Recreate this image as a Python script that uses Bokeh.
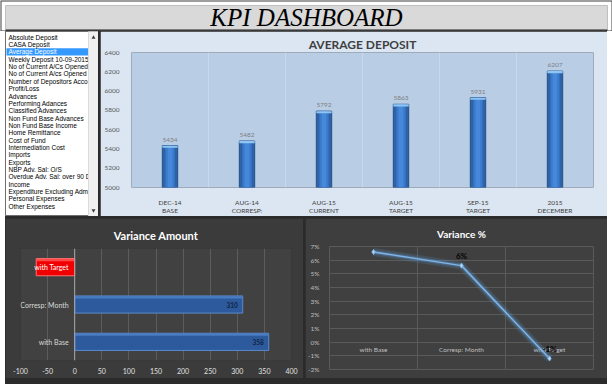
from bokeh.plotting import figure
from bokeh.models import Range1d, FixedTicker, CustomJSTickFormatter, Span, Spacer
from bokeh.layouts import column, row
from bokeh.embed import file_html
from bokeh.resources import INLINE
from bokeh.core.properties import value

# ---------------- data ----------------
dashboard_title = "KPI DASHBOARD"
menu_items = ["Absolute Deposit", "CASA Deposit", "Average Deposit", "Weekly Deposit  10-09-2015",
              "No of Current A/Cs Opened", "No of Current A/cs Opened", "Number of Depositors Acco",
              "Profit/Loss", "Advances", "Performing Adances", "Classified Advances",
              "Non Fund Base Advances", "Non Fund Base Income", "Home Remittance", "Cost of Fund",
              "Intermediation Cost", "Imports", "Exports", "NBP Adv. Sal: O/S",
              "Overdue Adv. Sal: over 90 D", "Income", "Expenditure Excluding Adm",
              "Personal Expenses", "Other Expenses"]
selected_item = "Average Deposit"

periods = ["DEC-14", "AUG-14", "AUG-15", "AUG-15", "SEP-15", "2015"]
period_types = ["BASE", "CORRESP:", "CURRENT", "TARGET", "TARGET", "DECEMBER"]
avg_deposit = [5434, 5482, 5792, 5863, 5931, 6207]
deposit_ticks = [5000, 5200, 5400, 5600, 5800, 6000, 6200, 6400]

var_categories = ["with Base", "Corresp: Month", "with Target"]
var_amount = [358, 310, -71]
amount_ticks = [-100, -50, 0, 50, 100, 150, 200, 250, 300, 350, 400]
var_pct = [6.6, 5.6, -1.2]
var_pct_labels = ["7%", "6%", "-1%"]
pct_ticks = [-2, -1, 0, 1, 2, 3, 4, 5, 6, 7]

FONT = "Lato"


def base_fig(**kw):
    return figure(toolbar_location=None, output_backend="svg", **kw)


def style_title(p, text, size, color, standoff):
    p.title.text = text
    p.title.align = "center"
    p.title.text_font = FONT
    p.title.text_font_size = size
    p.title.text_color = color
    p.title.text_font_style = "bold"
    p.title.standoff = standoff


# ---------------- title bar (full page width, pixel coordinates) ----------------
TW, TH = 612, 31
pt = base_fig(width=TW, height=TH, x_range=(0, TW), y_range=(TH, 0), x_axis_type=None, y_axis_type=None,
              min_border=0)
pt.background_fill_color = "#ffffff"
pt.border_fill_color = "#ffffff"
pt.outline_line_color = None
pt.grid.visible = False
pt.quad(left=0, right=TW, top=0, bottom=TH, fill_color="#ffffff", line_color="#3f3f3f", line_width=2)
pt.quad(left=5, right=TW - 5, top=5, bottom=29, fill_color="#d9d9d9", line_color="#bfbfbf")
pt.quad(left=5, right=TW - 5, top=29, bottom=TH, fill_color="#3a3a3a", line_color=None)
pt.text(x=[TW / 2], y=[17], text=[dashboard_title], text_align="center", text_baseline="middle",
        text_font=value("Liberation Serif"), text_font_style="italic", text_font_size="25px",
        text_color="#000000")

# ---------------- menu list ----------------
LW, LH = 93, 185
pl = base_fig(width=LW, height=LH, x_range=(0, LW), y_range=(LH, 0), x_axis_type=None, y_axis_type=None,
              min_border=0)
pl.background_fill_color = "#ffffff"
pl.border_fill_color = "#ffffff"
pl.outline_line_color = "#6f6f6f"
pl.grid.visible = False
step = 7.35
ys = [5.7 + i * step for i in range(len(menu_items))]
sel = menu_items.index(selected_item)
pl.quad(left=1, right=83, top=ys[sel] - step / 2, bottom=ys[sel] + step / 2, fill_color="#3399ff", line_color=None)
colors = ["#ffffff" if m == selected_item else "#000000" for m in menu_items]
pl.text(x=3, y=ys, text=menu_items, text_color=colors, text_font=value("Liberation Sans"),
        text_font_size="6.5px", text_baseline="middle")
pl.quad(left=83, right=LW, top=0, bottom=LH, fill_color="#f0f0f0", line_color="#dcdcdc")
pl.scatter(x=[88, 88], y=[6, LH - 6], marker=["triangle", "inverted_triangle"], size=4,
           fill_color="#404040", line_color=None)

# ---------------- average deposit ----------------
pa = base_fig(width=507, height=185, x_range=Range1d(0, 6), y_range=Range1d(5000, 6400),
              min_border_left=31, min_border_right=14, min_border_top=21, min_border_bottom=23)
pa.background_fill_color = "#b9cde5"
pa.border_fill_color = "#dce6f2"
pa.outline_line_color = None
style_title(pa, "AVERAGE DEPOSIT", "12px", "#404040", 2)
xs = [i + 0.5 for i in range(len(avg_deposit))]
pa.vbar(x=xs, top=avg_deposit, bottom=5000, width=0.2, fill_color="#2f62a6", line_color="#24508a")
pa.vbar(x=xs, top=avg_deposit, bottom=5000, width=0.12, fill_color="#3b7acb", line_color=None)
pa.vbar(x=xs, top=avg_deposit, bottom=5000, width=0.06, fill_color="#4689da", line_color=None)
pa.vbar(x=xs, top=avg_deposit, bottom=[v - 22 for v in avg_deposit], width=0.2,
        fill_color="#8fc5f3", line_color=None)
pa.text(x=xs, y=avg_deposit, text=[str(v) for v in avg_deposit], text_align="center",
        text_baseline="bottom", y_offset=-4, text_font=value(FONT), text_font_size="6.5px",
        text_color="#7f7f7f")
pa.xaxis.ticker = FixedTicker(ticks=xs)
pa.xaxis.formatter = CustomJSTickFormatter(args=dict(a=periods, b=period_types),
                                           code="const i = Math.floor(tick); return a[i] + '\\n' + b[i];")
pa.yaxis.ticker = FixedTicker(ticks=deposit_ticks)
for ax in (pa.xaxis, pa.yaxis):
    ax.axis_line_color = None
    ax.major_tick_line_color = None
    ax.minor_tick_line_color = None
    ax.major_label_text_font = FONT
    ax.major_label_text_font_size = "6.5px"
    ax.major_label_text_color = "#595959"
pa.xaxis.major_label_text_color = "#404040"
pa.xaxis.major_label_standoff = 5
pa.yaxis.major_label_standoff = 6
pa.xgrid.ticker = FixedTicker(ticks=[1, 2, 3, 4, 5])
pa.xgrid.grid_line_color = "#c9d8ea"
pa.ygrid.grid_line_color = None

# ---------------- variance amount ----------------
pv = base_fig(width=298, height=160, x_range=Range1d(-100, 400), y_range=Range1d(0, 3),
              min_border_left=15, min_border_right=12, min_border_top=30, min_border_bottom=18)
pv.background_fill_color = "#414141"
pv.border_fill_color = "#3b3b3b"
pv.outline_line_color = None
style_title(pv, "Variance Amount", "11px", "#ffffff", 14)
vy = [i + 0.5 for i in range(len(var_categories))]
bar_fill = ["#2d5a9c" if v >= 0 else "#f00000" for v in var_amount]
bar_line = ["#5a8ad0" if v >= 0 else "#ff7070" for v in var_amount]
pv.xgrid.ticker = FixedTicker(ticks=amount_ticks)
pv.xgrid.grid_line_color = "#5c5c5c"
pv.ygrid.grid_line_color = None
pv.add_layout(Span(location=0, dimension="height", line_color="#a6a6a6", line_width=1))
pv.hbar(y=vy, left=0, right=var_amount, height=0.46, fill_color=bar_fill, line_color=bar_line)
pv.hbar(y=[y + 0.19 for y in vy], left=0, right=var_amount, height=0.06,
        fill_color=["#4a7cc2" if v >= 0 else "#ff4a4a" for v in var_amount], line_color=None)
lab_col = ["#d9d9d9" if v >= 0 else "#ffffff" for v in var_amount]
pv.text(x=0, y=vy, text=var_categories, text_align="right", text_baseline="middle", x_offset=-6,
        text_color=lab_col, text_font=value(FONT), text_font_size="7px")
pos_y = [y for y, v in zip(vy, var_amount) if v > 0]
pos_v = [v for v in var_amount if v > 0]
pv.text(x=pos_v, y=pos_y, text=[str(v) for v in pos_v], text_align="right", text_baseline="middle",
        x_offset=-5, text_color="#0f2341", text_font=value(FONT), text_font_style="bold",
        text_font_size="6.5px")
pv.xaxis.ticker = FixedTicker(ticks=amount_ticks)
pv.xaxis.formatter = CustomJSTickFormatter(code="return tick.toFixed(0);")
pv.xaxis.axis_line_color = None
pv.xaxis.major_tick_line_color = None
pv.xaxis.minor_tick_line_color = None
pv.xaxis.major_label_text_color = "#e0e0e0"
pv.xaxis.major_label_text_font = FONT
pv.xaxis.major_label_text_font_size = "7px"
pv.xaxis.major_label_standoff = 1
pv.yaxis.visible = False

# ---------------- variance % ----------------
pp = base_fig(width=302, height=160, x_range=Range1d(0, 3), y_range=Range1d(-2, 7),
              min_border_left=21, min_border_right=14, min_border_top=28, min_border_bottom=9)
pp.background_fill_color = "#404040"
pp.border_fill_color = "#3e3e3e"
pp.outline_line_color = "#5a5a5a"
style_title(pp, "Variance %", "10px", "#ffffff", 14)
px = [i + 0.5 for i in range(len(var_pct))]
pp.xgrid.ticker = FixedTicker(ticks=[0, 1, 2, 3])
pp.xgrid.grid_line_color = "#5a5a5a"
pp.ygrid.ticker = FixedTicker(ticks=pct_ticks)
pp.ygrid.grid_line_color = "#5a5a5a"
pp.text(x=px, y=0, text=var_categories, text_align="center", text_baseline="top", y_offset=4,
        text_color="#bfbfbf", text_font=value(FONT), text_font_size="6.5px")
pp.line(px, var_pct, line_width=8, line_color="#5b9bd5", line_alpha=0.18)
pp.line(px, var_pct, line_width=4, line_color="#5b9bd5", line_alpha=0.35)
pp.line(px, var_pct, line_width=1.5, line_color="#7fb3e6")
pp.scatter(px, var_pct, size=5, marker="diamond", fill_color="#bdd7ee", line_color="#7fb3e6")
pp.text(x=px, y=var_pct, text=var_pct_labels, text_align="center", text_baseline="bottom", y_offset=-5,
        text_color="#000000", text_font=value(FONT), text_font_style="bold", text_font_size="8px")
pp.xaxis.visible = False
pp.yaxis.ticker = FixedTicker(ticks=pct_ticks)
pp.yaxis.formatter = CustomJSTickFormatter(code="return tick.toFixed(0) + '%';")
pp.yaxis.axis_line_color = None
pp.yaxis.major_tick_line_color = None
pp.yaxis.minor_tick_line_color = None
pp.yaxis.major_label_text_color = "#bfbfbf"
pp.yaxis.major_label_text_font = FONT
pp.yaxis.major_label_text_font_size = "6.5px"
pp.yaxis.major_label_standoff = 4

inner = column(row(column(pl), column(pa), spacing=2, width=602, height=185),
               row(column(pv), column(pp), spacing=2, width=602, height=160),
               Spacer(width=602, height=4),
               spacing=2, width=602, height=353,
               styles={"background-color": "#2b2b2b"})
layout = column(pt,
                row(Spacer(width=5, height=353), inner, Spacer(width=5, height=353), width=612, height=353),
                Spacer(width=612, height=5),
                width=612, height=389,
                styles={"background-color": "#ffffff"})

open("out.html", "w").write(file_html(layout, INLINE))
